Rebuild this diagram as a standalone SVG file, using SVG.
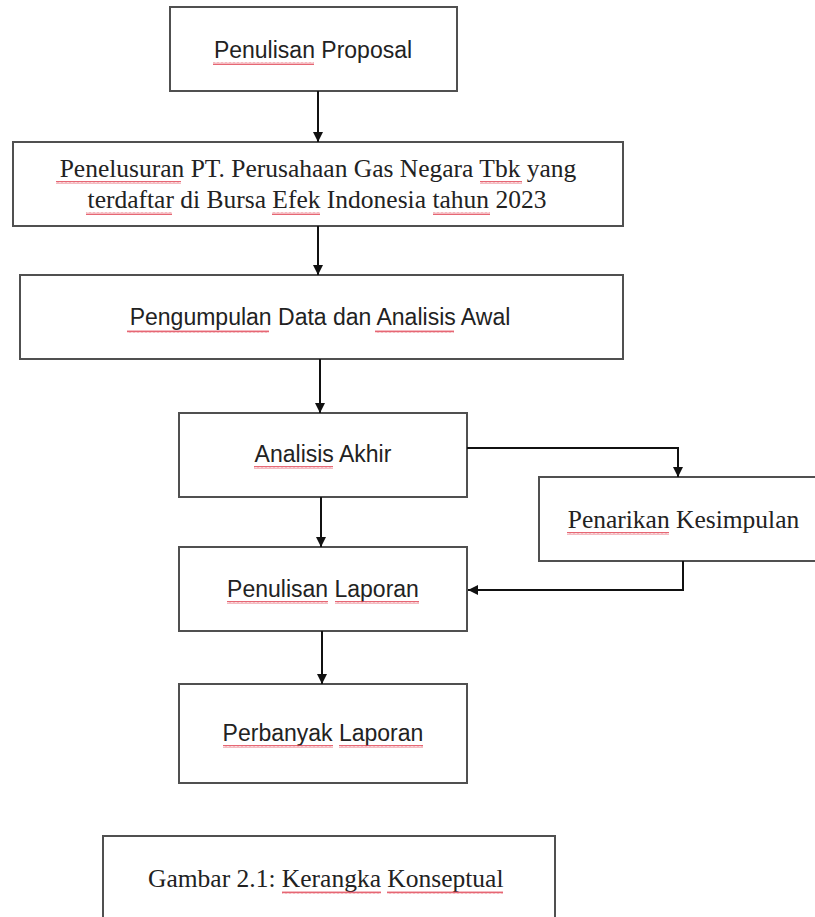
<svg xmlns="http://www.w3.org/2000/svg" width="815" height="917" viewBox="0 0 815 917">
<style>
.box{fill:#fff;stroke:#505050;stroke-width:2}
.sans{font-family:"Liberation Sans",Arial,sans-serif;font-size:23px;fill:#222}
.serif{font-family:"Liberation Serif","Times New Roman",serif;font-size:25.5px;fill:#222}
.conn{fill:none;stroke:#111;stroke-width:2}
.sq{fill:url(#squig)}
</style>
<defs>
<marker id="arr" viewBox="0 0 10 10" refX="10" refY="5" markerWidth="5" markerHeight="5" markerUnits="strokeWidth" orient="auto">
<path d="M0 0 L10 5 L0 10 Z" fill="#111"/>
</marker>
<pattern id="squig" width="4" height="3" patternUnits="userSpaceOnUse">
<path d="M0 2.5 L1 0.5 L2 2.5 L3 0.5 L4 2.5" fill="none" stroke="#e04050" stroke-width="0.8"/>
</pattern>
</defs>
<rect width="815" height="917" fill="#fff"/>

<g id="n1">
<rect class="box" x="170" y="7" width="287" height="84"/>
<text class="sans" x="313" y="58" text-anchor="middle">Penulisan Proposal</text>
<rect class="sq" x="213" y="62" width="101" height="3"/>
</g>

<g id="n2">
<rect class="box" x="13" y="142" width="610" height="84"/>
<text class="serif" x="318" y="177" text-anchor="middle">Penelusuran PT. Perusahaan Gas Negara Tbk yang</text>
<text class="serif" x="317" y="208" text-anchor="middle">terdaftar di Bursa Efek Indonesia tahun 2023</text>
<rect class="sq" x="56" y="181" width="125" height="3"/>
<rect class="sq" x="480" y="181" width="42" height="3"/>
<rect class="sq" x="86" y="212" width="86" height="3"/>
<rect class="sq" x="272" y="212" width="48" height="3"/>
<rect class="sq" x="433" y="212" width="57" height="3"/>
</g>

<g id="n3">
<rect class="box" x="20" y="275" width="603" height="84"/>
<text class="sans" x="320" y="325" text-anchor="middle">Pengumpulan Data dan Analisis Awal</text>
<rect class="sq" x="127" y="330" width="142" height="3"/>
<rect class="sq" x="375" y="330" width="79" height="3"/>
</g>

<g id="n4">
<rect class="box" x="179" y="413" width="288" height="84"/>
<text class="sans" x="323" y="462" text-anchor="middle">Analisis Akhir</text>
<rect class="sq" x="254" y="466" width="79" height="3"/>
</g>

<g id="n5">
<rect class="box" x="539" y="477" width="290" height="84"/>
<text class="serif" x="683.5" y="528" text-anchor="middle">Penarikan Kesimpulan</text>
<rect class="sq" x="567" y="532" width="102" height="3"/>
</g>

<g id="n6">
<rect class="box" x="179" y="547" width="288" height="84"/>
<text class="sans" x="323" y="597" text-anchor="middle">Penulisan Laporan</text>
<rect class="sq" x="227" y="601" width="101" height="3"/>
<rect class="sq" x="335" y="601" width="84" height="3"/>
</g>

<g id="n7">
<rect class="box" x="179" y="684" width="288" height="99"/>
<text class="sans" x="323" y="741" text-anchor="middle">Perbanyak Laporan</text>
<rect class="sq" x="223" y="745" width="110" height="3"/>
<rect class="sq" x="339" y="745" width="84" height="3"/>
</g>

<g id="caption">
<rect class="box" x="103" y="836" width="452" height="100"/>
<text class="serif" x="148" y="887">Gambar 2.1: Kerangka Konseptual</text>
<rect class="sq" x="282" y="891" width="99" height="3"/>
<rect class="sq" x="387" y="891" width="116" height="3"/>
</g>

<g id="connectors">
<path class="conn" d="M318 91 V142" marker-end="url(#arr)"/>
<path class="conn" d="M318 226 V275" marker-end="url(#arr)"/>
<path class="conn" d="M320 359 V413" marker-end="url(#arr)"/>
<path class="conn" d="M321 497 V547" marker-end="url(#arr)"/>
<path class="conn" d="M322 631 V684" marker-end="url(#arr)"/>
<path class="conn" d="M467 448 H678 V477" marker-end="url(#arr)"/>
<path class="conn" d="M683 561 V590 H468" marker-end="url(#arr)"/>
</g>
</svg>
